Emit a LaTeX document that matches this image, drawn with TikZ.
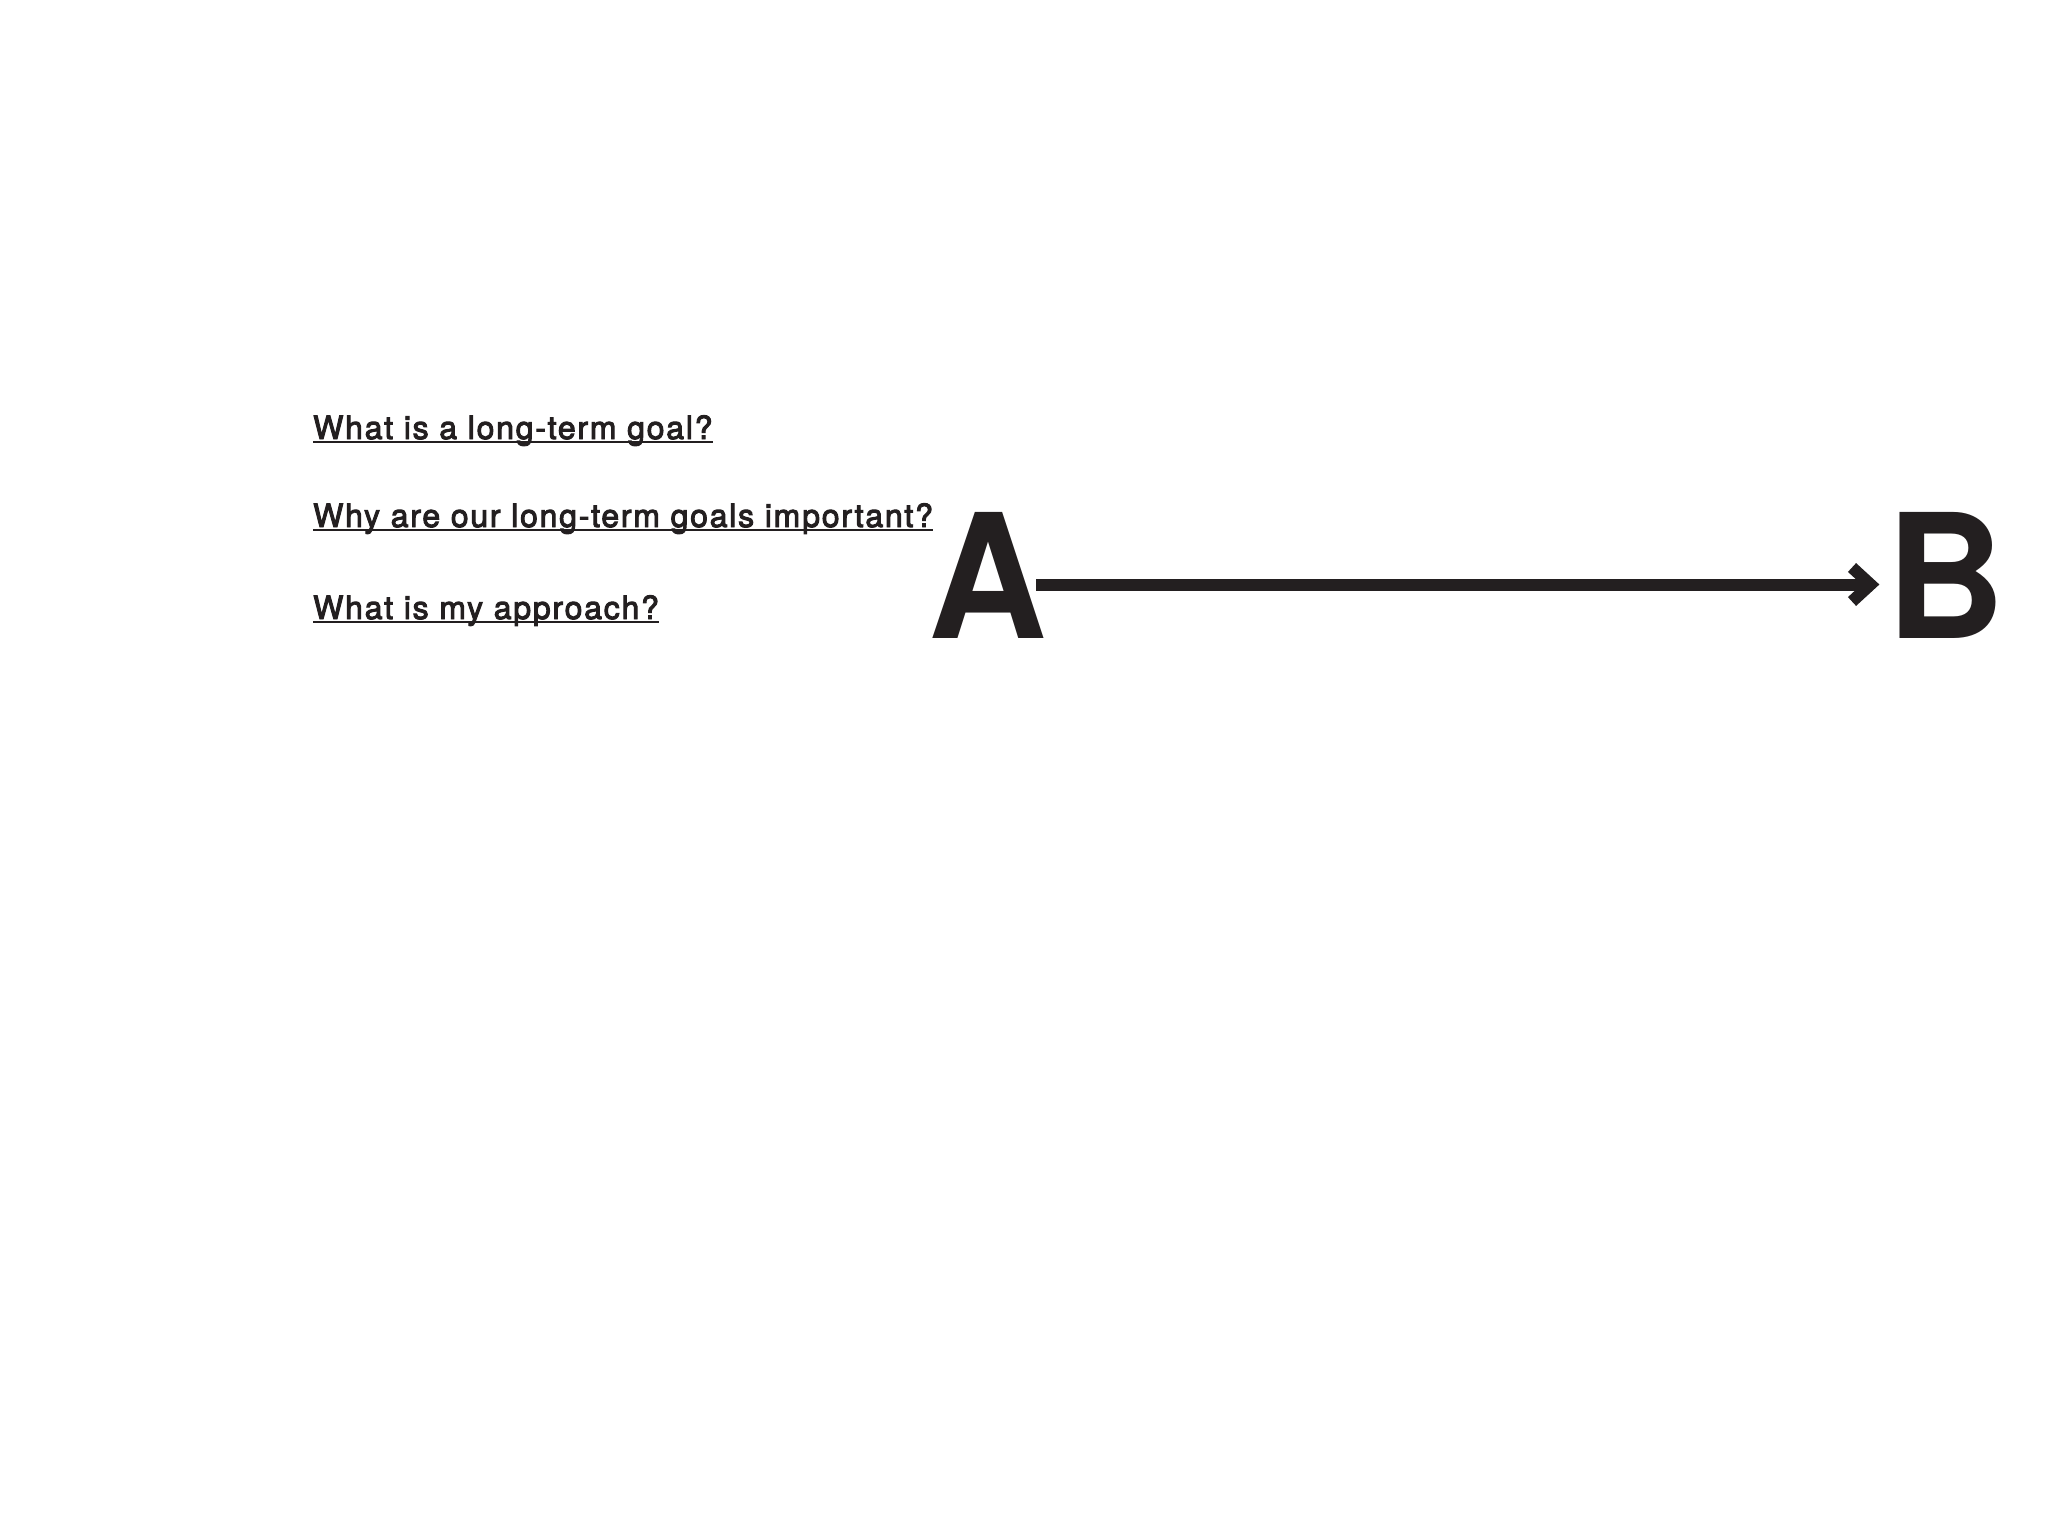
\documentclass[tikz,border=0pt]{standalone}
\usepackage{fontspec}
\setmainfont{TeX Gyre Heros}
\newfontfamily\qfont[LetterSpace=5.5,FakeBold=3]{TeX Gyre Heros}
\newfontfamily\bigfont[FakeStretch=0.95]{TeX Gyre Heros Bold}
\definecolor{ink}{HTML}{231F20}
\begin{document}
\begin{tikzpicture}[x=1pt,y=-1pt,
  q/.style={anchor=base west, inner sep=0pt, text=ink, font=\qfont\fontsize{32}{38}\selectfont},
  big/.style={anchor=base, inner sep=0pt, text=ink, font=\bigfont\fontsize{173}{200}\selectfont},
  ul/.style={draw=ink, line width=2pt},
  link/.style={draw=ink, line width=12pt},
  chev/.style={draw=ink, line width=12pt, line join=miter}]
\useasboundingbox[fill=white] (0,0) rectangle (2048,1536);
\node[q] (q1) at (313,439) {What is a long-term goal?};
\node[q] (q2) at (313,527) {Why are our long-term goals important?};
\node[q] (q3) at (313,619) {What is my approach?};
\draw[ul] ([yshift=-3pt]q1.base west) -- ([yshift=-3pt]q1.base east);
\draw[ul] ([yshift=-3pt]q2.base west) -- ([yshift=-3pt]q2.base east);
\draw[ul] ([yshift=-3pt]q3.base west) -- ([yshift=-3pt]q3.base east);
\node[big] (A) at (988,638) {A};
\node[big] (B) at (1945.6,638) {B};
\coordinate (s) at (1036,584.5);
\coordinate (tip) at (1870.5,584.5);
\draw[link] (s) -- (tip);
\draw[chev] ([shift={(-18.5,-17)}]tip) -- (tip) -- ([shift={(-18.5,17)}]tip);
\end{tikzpicture}
\end{document}
